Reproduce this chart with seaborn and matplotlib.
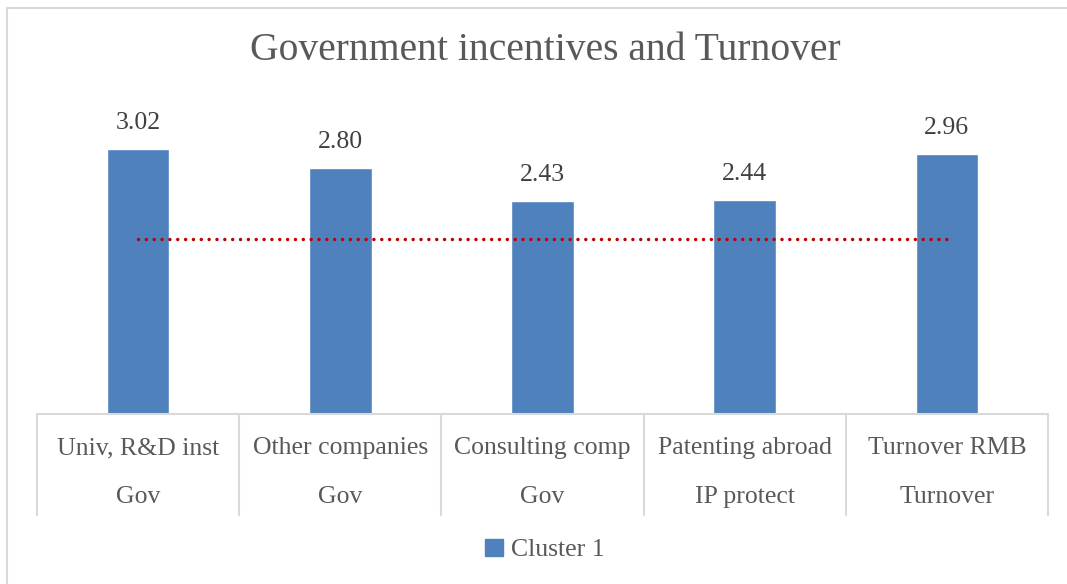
import matplotlib
matplotlib.use("Agg")
import matplotlib.pyplot as plt
import matplotlib.transforms as mtransforms
from matplotlib.lines import Line2D
import seaborn as sns

categories_top = ["Univ, R&D inst", "Other companies", "Consulting comp", "Patenting abroad", "Turnover RMB"]
categories_bottom = ["Gov", "Gov", "Gov", "IP protect", "Turnover"]
values = [3.02, 2.80, 2.43, 2.44, 2.96]
reference_value = 2.0
series_name = "Cluster 1"
title = "Government incentives and Turnover"

BAR = "#4F81BD"
TEXT = "#595959"
GRID = "#D9D9D9"

sns.set_style("white")
plt.rcParams['font.family'] = ['Liberation Serif', 'DejaVu Serif']

W, H = 1067, 584
fig = plt.figure(figsize=(W / 100, H / 100), dpi=100)
# plot area in pixels: x 37..1048, y 107..414
ax = fig.add_axes([37 / W, (H - 414) / H, (1048 - 37) / W, (414 - 107) / H])

x = list(range(len(values)))
sns.barplot(x=x, y=values, color=BAR, width=0.31, saturation=1, ax=ax, zorder=2)
sns.lineplot(x=x, y=[reference_value] * len(x), ax=ax, color="#C00000", lw=2.5,
             zorder=3)
ax.lines[-1].set_dashes((0.01, 2.25))
ax.lines[-1].set_dash_capstyle("round")

ax.set_xlim(-0.5, len(values) - 0.5)
ax.set_ylim(0, 3.5)
sns.despine(ax=ax, left=True, bottom=True)
ax.set_xticks([])
ax.set_yticks([])
ax.set_xlabel("")
ax.set_ylabel("")

# data labels
for i, v in enumerate(values):
    ax.annotate(f"{v:.2f}", (i, v), xytext=(0, 26), textcoords="offset pixels",
                ha="center", va="center", fontsize=18.5, color="#404040")

# two-level category table
trans = mtransforms.blended_transform_factory(ax.transData, ax.transAxes)
tbl_bottom = -(515 - 414) / (414 - 107)
ax.add_line(Line2D([-0.5, len(values) - 0.5], [0, 0], transform=trans, color=GRID,
                   lw=1.5, clip_on=False))
for b in range(len(values) + 1):
    ax.add_line(Line2D([b - 0.5, b - 0.5], [0, tbl_bottom], transform=trans,
                       color=GRID, lw=1.5, clip_on=False))
for i, (t, btm) in enumerate(zip(categories_top, categories_bottom)):
    ax.text(i, -(448 - 414) / (414 - 107), t, transform=trans, ha="center",
            va="center", fontsize=18.5, color=TEXT)
    ax.text(i, -(497 - 414) / (414 - 107), btm, transform=trans, ha="center",
            va="center", fontsize=18.5, color=TEXT)

fig.text(545 / W, 1 - 51 / H, title, ha="center", va="center", fontsize=28.5,
         color=TEXT)

# legend
handles = [plt.Rectangle((0, 0), 1, 1, color=BAR)]
fig.legend(handles, [series_name], loc="center", bbox_to_anchor=(545 / W, 1 - 550 / H),
           frameon=False, fontsize=18.5, labelcolor=TEXT, handlelength=0.7,
           handleheight=0.7, handletextpad=0.3)

# chart border (left/top visible)
fig.add_artist(Line2D([7 / W, 7 / W], [0, 1 - 8 / H], color=GRID, lw=1.5))
fig.add_artist(Line2D([7 / W, 1], [1 - 8 / H, 1 - 8 / H], color=GRID, lw=1.5))

fig.savefig("out.png", dpi=100, facecolor="white")
